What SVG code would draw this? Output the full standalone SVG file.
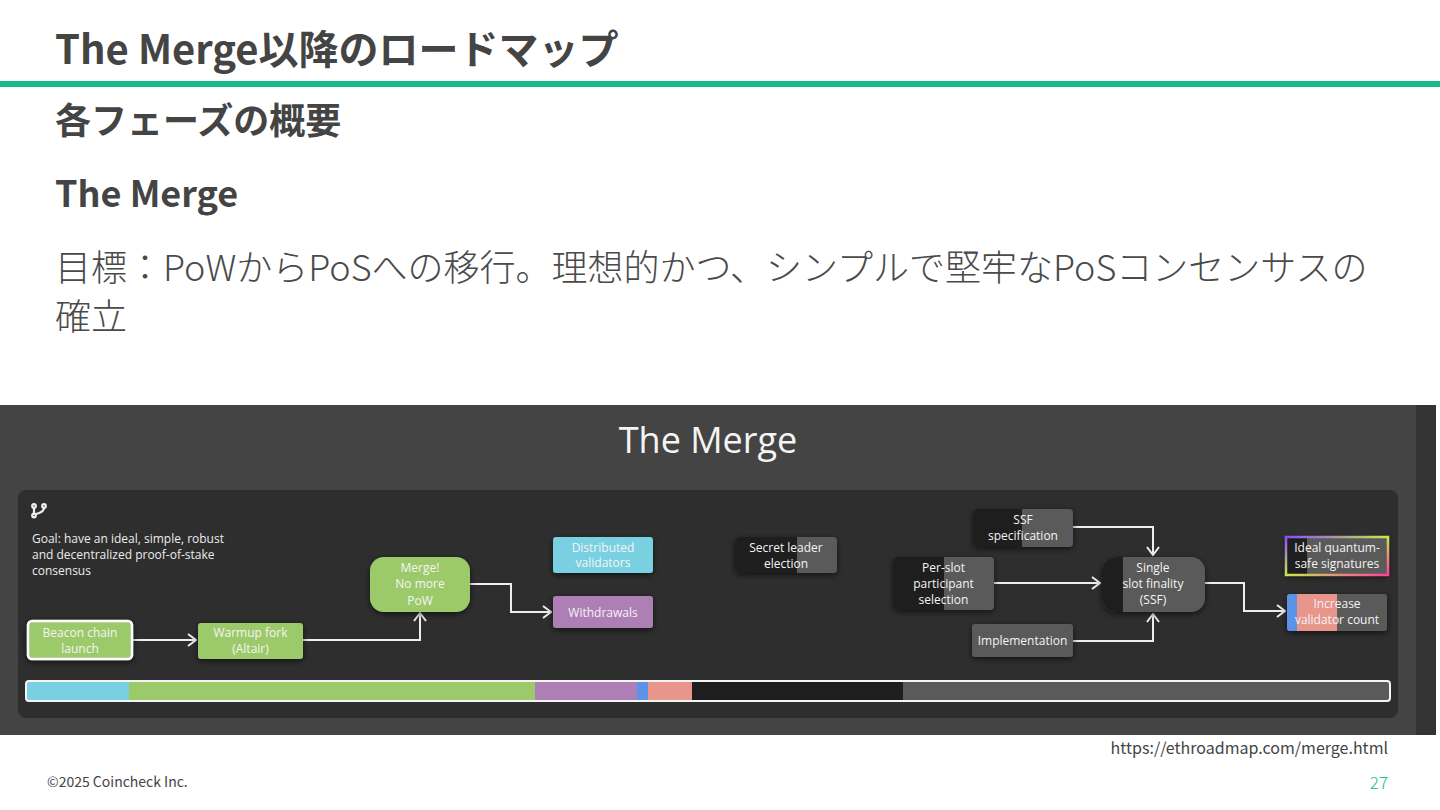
<svg xmlns="http://www.w3.org/2000/svg" width="1440" height="810" viewBox="0 0 1440 810">
<defs>
<style>
.jp{font-family:"Noto Sans CJK JP","Noto Sans",sans-serif;fill:#444}
.h1{font-size:40px;font-weight:700}
.h2{font-size:36px;font-weight:700}
.body{font-size:36px;font-weight:300;fill:#4a4a4a}
.os{font-family:"Open Sans","Liberation Sans",sans-serif}
.nt{font-family:"Open Sans","Liberation Sans",sans-serif;font-size:12px;fill:#f4f4f4;text-anchor:middle}
.goal{font-family:"Open Sans","Liberation Sans",sans-serif;font-size:12px;fill:#ececec}
.conn{fill:none;stroke:#eeeeee;stroke-width:2}
.green{fill:#9cca6b}
.cyan{fill:#79d0e1}
.purple{fill:#ae7fb4}
.blue{fill:#5b93e6}
.salmon{fill:#e8958b}
.dark{fill:#1e1e1e}
.gray{fill:#5a5a5a}
</style>
<marker id="chev" viewBox="0 0 10 14" refX="9" refY="7" markerWidth="10" markerHeight="14" markerUnits="userSpaceOnUse" orient="auto">
<path d="M1,1 L9,7 L1,13" fill="none" stroke="#eeeeee" stroke-width="2"/>
</marker>
<filter id="sh" x="-20%" y="-30%" width="140%" height="160%">
<feDropShadow dx="0" dy="2" stdDeviation="3" flood-color="#000" flood-opacity="0.6"/>
</filter>
<linearGradient id="rainbow" x1="0" y1="0" x2="1" y2="1">
<stop offset="0" stop-color="#8b4dff"/>
<stop offset="0.5" stop-color="#c9e84a"/>
<stop offset="1" stop-color="#ff3f9e"/>
</linearGradient>
<clipPath id="cp-secret"><rect x="735" y="537" width="102" height="36" rx="4"/></clipPath>
<clipPath id="cp-ssfspec"><rect x="973" y="509" width="100" height="38" rx="4"/></clipPath>
<clipPath id="cp-perslot"><rect x="893" y="557" width="101" height="53" rx="4"/></clipPath>
<clipPath id="cp-ssf"><rect x="1102" y="557" width="103" height="55" rx="14"/></clipPath>
<clipPath id="cp-ideal"><rect x="1286" y="537" width="102" height="38"/></clipPath>
<clipPath id="cp-inc"><rect x="1287" y="594" width="100" height="37" rx="3"/></clipPath>
<clipPath id="cp-bar"><rect x="26" y="681" width="1364" height="20" rx="3"/></clipPath>
</defs>

<rect x="0" y="0" width="1440" height="810" fill="#ffffff"/>

<g id="page-header">
<text class="jp h1" x="55" y="64">The Merge以降のロードマップ</text>
<rect x="0" y="81" width="1440" height="6" fill="#1ab98a"/>
<text class="jp h2" x="55" y="134">各フェーズの概要</text>
<text class="jp h2" x="55" y="207">The Merge</text>
<text class="jp body" x="55" y="281">目標：PoWからPoSへの移行。理想的かつ、シンプルで堅牢なPoSコンセンサスの</text>
<text class="jp body" x="55" y="330">確立</text>
</g>

<g id="screenshot">
<rect x="0" y="405" width="1416" height="330" fill="#444444"/>
<rect x="1416" y="405" width="20" height="330" fill="#333333"/>
<text class="os" x="708" y="453" font-size="36" fill="#f4f4f4" text-anchor="middle">The Merge</text>
<rect x="18" y="490" width="1380" height="228" rx="8" fill="#2e2e2e"/>
<g id="branch-icon" fill="none" stroke="#f0f0f0" stroke-width="2.2">
<circle cx="34" cy="506" r="1.8"/>
<circle cx="44" cy="506" r="1.8"/>
<circle cx="34" cy="515.5" r="1.8"/>
<path d="M34,508 V513.5 M44,508 Q44,512 36,514"/>
</g>
<text class="goal" x="32" y="543">Goal: have an ideal, simple, robust</text>
<text class="goal" x="32" y="559">and decentralized proof-of-stake</text>
<text class="goal" x="32" y="575">consensus</text>
</g>

<g id="connectors">
<path class="conn" d="M132,640 H196" marker-end="url(#chev)"/>
<path class="conn" d="M303,640 H420 V613" marker-end="url(#chev)"/>
<path class="conn" d="M470,584 H511 V612 H551" marker-end="url(#chev)"/>
<path class="conn" d="M1073,527 H1153 V555" marker-end="url(#chev)"/>
<path class="conn" d="M994,583 H1100" marker-end="url(#chev)"/>
<path class="conn" d="M1073,641 H1153 V614" marker-end="url(#chev)"/>
<path class="conn" d="M1205,583 H1244 V611 H1285" marker-end="url(#chev)"/>
</g>

<g id="node-beacon">
<rect x="28" y="621" width="104" height="38" rx="4" class="green" stroke="#ffffff" stroke-width="2.5" filter="url(#sh)"/>
<text class="nt" x="80" y="637">Beacon chain</text>
<text class="nt" x="80" y="653">launch</text>
</g>

<g id="node-warmup">
<rect x="198" y="623" width="105" height="36" rx="3" class="green" filter="url(#sh)"/>
<text class="nt" x="250.5" y="637">Warmup fork</text>
<text class="nt" x="250.5" y="653">(Altair)</text>
</g>

<g id="node-merge">
<rect x="370" y="557" width="100" height="55" rx="14" class="green" filter="url(#sh)"/>
<text class="nt" x="420" y="572">Merge!</text>
<text class="nt" x="420" y="588">No more</text>
<text class="nt" x="420" y="605">PoW</text>
</g>

<g id="node-distributed">
<rect x="553" y="537" width="100" height="36" rx="3" class="cyan" filter="url(#sh)"/>
<text class="nt" x="603" y="552">Distributed</text>
<text class="nt" x="603" y="567">validators</text>
</g>

<g id="node-withdrawals">
<rect x="553" y="596" width="100" height="32" rx="3" class="purple" filter="url(#sh)"/>
<text class="nt" x="603" y="617">Withdrawals</text>
</g>

<g id="node-secret">
<rect x="735" y="537" width="102" height="36" rx="4" class="gray" filter="url(#sh)"/>
<g clip-path="url(#cp-secret)">
<rect x="735" y="537" width="62" height="36" class="dark"/>
</g>
<text class="nt" x="786" y="552">Secret leader</text>
<text class="nt" x="786" y="568">election</text>
</g>

<g id="node-ssfspec">
<rect x="973" y="509" width="100" height="38" rx="4" class="gray" filter="url(#sh)"/>
<g clip-path="url(#cp-ssfspec)">
<rect x="973" y="509" width="49" height="38" class="dark"/>
</g>
<text class="nt" x="1023" y="524">SSF</text>
<text class="nt" x="1023" y="540">specification</text>
</g>

<g id="node-perslot">
<rect x="893" y="557" width="101" height="53" rx="4" class="gray" filter="url(#sh)"/>
<g clip-path="url(#cp-perslot)">
<rect x="893" y="557" width="51" height="53" class="dark"/>
</g>
<text class="nt" x="943.5" y="572">Per-slot</text>
<text class="nt" x="943.5" y="588">participant</text>
<text class="nt" x="943.5" y="604">selection</text>
</g>

<g id="node-implementation">
<rect x="972" y="624" width="101" height="33" rx="3" class="gray" filter="url(#sh)"/>
<text class="nt" x="1022.5" y="645">Implementation</text>
</g>

<g id="node-ssf">
<rect x="1102" y="557" width="103" height="55" rx="14" class="gray" filter="url(#sh)"/>
<g clip-path="url(#cp-ssf)">
<rect x="1102" y="557" width="21" height="55" class="dark"/>
</g>
<text class="nt" x="1153" y="572">Single</text>
<text class="nt" x="1153" y="588">slot finality</text>
<text class="nt" x="1153" y="604">(SSF)</text>
</g>

<g id="node-ideal">
<rect x="1286" y="537" width="102" height="38" class="gray" filter="url(#sh)"/>
<g clip-path="url(#cp-ideal)">
<rect x="1286" y="537" width="21" height="38" class="dark"/>
</g>
<rect x="1286" y="537" width="102" height="38" fill="none" stroke="url(#rainbow)" stroke-width="2.5"/>
<text class="nt" x="1337" y="552">Ideal quantum-</text>
<text class="nt" x="1337" y="568">safe signatures</text>
</g>

<g id="node-increase">
<rect x="1287" y="594" width="100" height="37" rx="3" class="gray" filter="url(#sh)"/>
<g clip-path="url(#cp-inc)">
<rect x="1287" y="594" width="10" height="37" class="blue"/>
<rect x="1297" y="594" width="40" height="37" class="salmon"/>
</g>
<text class="nt" x="1337" y="608">Increase</text>
<text class="nt" x="1337" y="624">validator count</text>
</g>

<g id="progress-bar">
<g clip-path="url(#cp-bar)">
<rect x="26" y="681" width="103" height="20" class="cyan"/>
<rect x="129" y="681" width="406" height="20" class="green"/>
<rect x="535" y="681" width="102" height="20" class="purple"/>
<rect x="637" y="681" width="11" height="20" class="blue"/>
<rect x="648" y="681" width="44" height="20" class="salmon"/>
<rect x="692" y="681" width="211" height="20" class="dark"/>
<rect x="903" y="681" width="487" height="20" class="gray"/>
</g>
<rect x="26" y="681" width="1364" height="20" rx="3" fill="none" stroke="#f4f4f4" stroke-width="2"/>
</g>

<g id="footer">
<text class="jp" x="1388" y="754" font-size="16" text-anchor="end" fill="#555">https://ethroadmap.com/merge.html</text>
<text class="jp" x="47" y="787" font-size="14" fill="#222">©2025 Coincheck Inc.</text>
<text class="jp" x="1388" y="789" font-size="17" font-weight="300" text-anchor="end" style="fill:#1ab98a">27</text>
</g>
</svg>
